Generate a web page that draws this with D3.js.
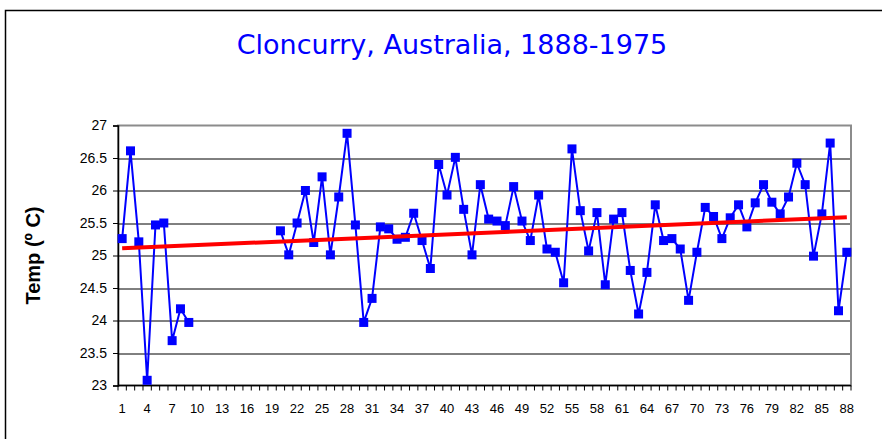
<!DOCTYPE html>
<html>
<head>
<meta charset="utf-8">
<script src="https://cdnjs.cloudflare.com/ajax/libs/d3/7.8.5/d3.min.js"></script>
<style>
  body { margin: 0; background: #fff; }
  svg { display: block; }
</style>
</head>
<body>
<svg></svg>
<script>
(function() {

  // years numbered 1..88 (1888-1975), null = missing
  var years = d3.range(1, 89);
  var temps = [
    25.26, 26.61, 25.21, 23.08, 25.47, 25.50, 23.69, 24.18, 23.97, null,
    null, null, null, null, null, null, null, null, null, 25.38,
    25.01, 25.50, 26.00, 25.20, 26.21, 25.01, 25.90, 26.88, 25.47, 23.97,
    24.34, 25.44, 25.41, 25.25, 25.28, 25.65, 25.23, 24.80, 26.40, 25.93,
    26.51, 25.71, 25.01, 26.09, 25.56, 25.53, 25.46, 26.06, 25.53, 25.23,
    25.93, 25.10, 25.05, 24.58, 26.64, 25.69, 25.07, 25.66, 24.55, 25.56,
    25.66, 24.77, 24.10, 24.74, 25.78, 25.23, 25.26, 25.10, 24.31, 25.05,
    25.74, 25.60, 25.26, 25.58, 25.78, 25.44, 25.81, 26.09, 25.82, 25.64,
    25.90, 26.42, 26.09, 24.99, 25.64, 26.73, 24.15, 25.05
  ];
  var trend = [{year: 1, temp: 25.11}, {year: 88, temp: 25.59}];
  var yTicks = [23, 23.5, 24, 24.5, 25, 25.5, 26, 26.5, 27];
  var xLabels = years.filter(function(d) { return (d - 1) % 3 === 0; });

  var width = 882, height = 439;
  var margin = {top: 125.5, right: 31, bottom: 53.5, left: 118};
  var chartWidth = width - margin.left - margin.right,
      chartHeight = height - margin.top - margin.bottom;

  var svg = d3.select("svg")
      .attr('width', width)
      .attr('height', height);

  // outer chart frame
  svg.append('rect')
      .attr('x', 5.5).attr('y', 10.5)
      .attr('width', 890).attr('height', 440)
      .attr('fill', 'white')
      .attr('stroke', 'black')
      .attr('stroke-width', 1.5);

  svg.append('text')
      .attr('x', 452).attr('y', 54)
      .attr('text-anchor', 'middle')
      .attr('fill', '#0000ff')
      .style('font-family', '"DejaVu Sans", sans-serif')
      .style('font-size', '27px')
      .text('Cloncurry, Australia, 1888-1975');

  var chart = svg.append('g')
      .attr('transform', 'translate(' + margin.left + ',' + margin.top + ')');

  var xScale = d3.scaleBand()
      .domain(years)
      .range([0, chartWidth]);

  var yScale = d3.scaleLinear()
      .domain([23, 27])
      .range([chartHeight, 0]);

  var xc = function(d) { return xScale(d) + xScale.bandwidth() / 2; };

  // gridlines
  chart.append('g')
    .selectAll('line')
    .data(yTicks.slice(1, -1))
    .enter().append('line')
      .attr('x1', 0).attr('x2', chartWidth)
      .attr('y1', function(d) { return Math.round(yScale(d)) + 0.5; })
      .attr('y2', function(d) { return Math.round(yScale(d)) + 0.5; })
      .attr('stroke', 'black')
      .attr('stroke-width', 1);

  // plot frame
  chart.append('rect')
      .attr('x', 0).attr('y', 0)
      .attr('width', chartWidth).attr('height', chartHeight)
      .attr('fill', 'none')
      .attr('stroke', '#8c8c8c')
      .attr('stroke-width', 2);

  // y axis
  var yAxis = chart.append('g')
      .call(d3.axisLeft(yScale)
        .tickValues(yTicks)
        .tickSize(5)
        .tickPadding(6)
        .tickFormat(function(d) { return d; }));
  yAxis.select('.domain').attr('stroke', 'black').attr('stroke-width', 1.5);
  yAxis.selectAll('.tick line').attr('stroke', 'black');
  yAxis.selectAll('text')
      .style('font-family', '"Liberation Sans", Arial, sans-serif')
      .style('font-size', '14px')
      .attr('fill', 'black');

  // x axis: ticks between categories, labels every 3rd year
  var xAxisG = chart.append('g')
      .attr('transform', 'translate(0,' + chartHeight + ')');
  xAxisG.append('line')
      .attr('x1', 0).attr('x2', chartWidth)
      .attr('y1', 0).attr('y2', 0)
      .attr('stroke', 'black').attr('stroke-width', 1.5);
  xAxisG.selectAll('.tk')
    .data(years.concat([89]))
    .enter().append('line')
      .attr('class', 'tk')
      .attr('x1', function(d) { return d === 89 ? chartWidth : xScale(d); })
      .attr('x2', function(d) { return d === 89 ? chartWidth : xScale(d); })
      .attr('y1', 0).attr('y2', 5)
      .attr('stroke', 'black');
  xAxisG.selectAll('.lbl')
    .data(xLabels)
    .enter().append('text')
      .attr('class', 'lbl')
      .attr('x', xc)
      .attr('y', 27)
      .attr('text-anchor', 'middle')
      .style('font-family', '"Liberation Sans", Arial, sans-serif')
      .style('font-size', '13px')
      .text(function(d) { return d; });

  svg.append('text')
      .attr('transform', 'translate(40,' + (margin.top + chartHeight / 2) + ') rotate(-90)')
      .attr('text-anchor', 'middle')
      .style('font-family', '"Liberation Sans", Arial, sans-serif')
      .style('font-size', '20px')
      .style('font-weight', 'bold')
      .text('Temp (º C)');

  var series = years.map(function(y, i) { return {year: y, temp: temps[i]}; });

  var lineGenerator = d3.line()
      .defined(function(d) { return d.temp !== null; })
      .x(function(d) { return xc(d.year); })
      .y(function(d) { return yScale(d.temp); });

  chart.append('path')
      .datum(series)
      .attr('d', lineGenerator)
      .attr('fill', 'none')
      .attr('stroke', '#0000ff')
      .attr('stroke-width', 2);

  chart.selectAll('.pt')
    .data(series.filter(function(d) { return d.temp !== null; }))
    .enter().append('rect')
      .attr('class', 'pt')
      .attr('x', function(d) { return xc(d.year) - 4.5; })
      .attr('y', function(d) { return yScale(d.temp) - 4.5; })
      .attr('width', 9).attr('height', 9)
      .attr('fill', '#0000ff');

  chart.append('path')
      .datum(trend)
      .attr('d', d3.line()
        .x(function(d) { return xc(d.year); })
        .y(function(d) { return yScale(d.temp); }))
      .attr('fill', 'none')
      .attr('stroke', '#ff0000')
      .attr('stroke-width', 4);

})()
</script>
</body>
</html>
